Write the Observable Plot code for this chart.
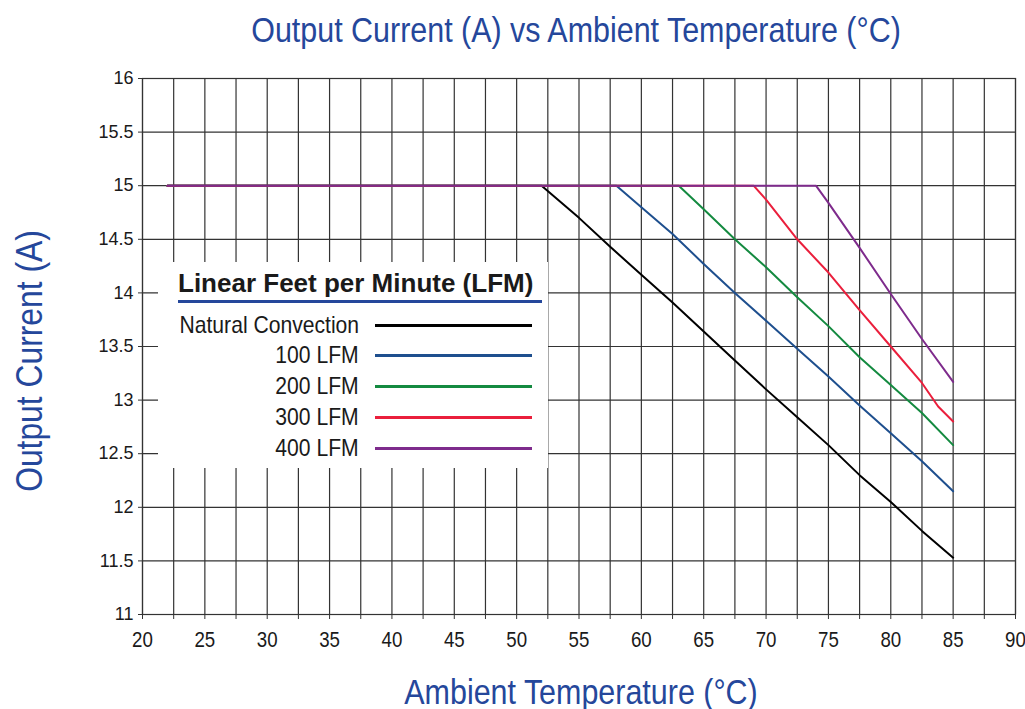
<!DOCTYPE html>
<html>
<head>
<meta charset="utf-8">
<script src="https://cdn.jsdelivr.net/npm/d3@7"></script>
<script src="https://cdn.jsdelivr.net/npm/@observablehq/plot@0.6"></script>
<style>
  html, body { margin: 0; padding: 0; background: #fff; }
  #wrap { position: relative; width: 1025px; height: 709px; font-family: "Liberation Sans", Arial, sans-serif; }
  .ttl { position: absolute; color: #25479b; font-size: 35px; white-space: nowrap; line-height: 40px; }
  #legend { position: absolute; background: #fff; }
  #legend .head { position: absolute; font-family: "Liberation Sans", Arial, sans-serif; font-weight: bold; font-size: 26px; color: #1a1a1a; white-space: nowrap; line-height: 30px; }
  #legend .rule { position: absolute; height: 3px; background: #25479b; }
  #legend .lab { position: absolute; font-size: 24px; color: #1a1a1a; text-align: right; white-space: nowrap; line-height: 28px; transform: scaleX(0.88); transform-origin: right center; }
  #legend .sw { position: absolute; height: 3px; }
</style>
</head>
<body>
<div id="wrap"></div>
<script>
// ---- data ----
const seriesNames = ["Natural Convection", "100 LFM", "200 LFM", "300 LFM", "400 LFM"];
const seriesColors = ["#000000", "#1e4f8e", "#148a40", "#ea1f3c", "#7e2b8c"];

const tempNC = [22, 52, 55, 57.5, 60, 62.5, 65, 67.5, 70, 72.5, 75, 77.5, 80, 82.5, 85];
const currNC = [15, 15, 14.7, 14.43, 14.17, 13.91, 13.64, 13.37, 13.1, 12.84, 12.58, 12.3, 12.05, 11.78, 11.53];

const temp100 = [22, 58, 60, 62.5, 65, 67.5, 70, 72.5, 75, 77.5, 80, 82.5, 85];
const curr100 = [15, 15, 14.8, 14.55, 14.27, 14.0, 13.74, 13.48, 13.22, 12.95, 12.69, 12.43, 12.15];

const temp200 = [22, 63, 65, 67.5, 70, 72.5, 75, 77.5, 80, 82.5, 85];
const curr200 = [15, 15, 14.78, 14.5, 14.24, 13.96, 13.69, 13.4, 13.14, 12.88, 12.58];

const temp300 = [22, 69, 70, 72.5, 75, 77.5, 80, 82.5, 83.8, 85];
const curr300 = [15, 15, 14.87, 14.5, 14.19, 13.84, 13.5, 13.16, 12.94, 12.8];

const temp400 = [22, 74, 75, 77.5, 80, 82.5, 85];
const curr400 = [15, 15, 14.84, 14.42, 13.99, 13.57, 13.17];

const xTickLabels = [20, 25, 30, 35, 40, 45, 50, 55, 60, 65, 70, 75, 80, 85, 90];
const xGridTicks = [20, 22.5, 25, 27.5, 30, 32.5, 35, 37.5, 40, 42.5, 45, 47.5, 50, 52.5, 55, 57.5, 60, 62.5, 65, 67.5, 70, 72.5, 75, 77.5, 80, 82.5, 85, 87.5, 90];
const yTicks = [11, 11.5, 12, 12.5, 13, 13.5, 14, 14.5, 15, 15.5, 16];

const titleText = "Output Current (A) vs Ambient Temperature (°C)";
const xLabelText = "Ambient Temperature (°C)";
const yLabelText = "Output Current (A)";
const legendTitle = "Linear Feet per Minute (LFM)";

// ---- build table ----
const temps = [tempNC, temp100, temp200, temp300, temp400];
const currs = [currNC, curr100, curr200, curr300, curr400];
const rows = [];
seriesNames.forEach((name, i) => {
  temps[i].forEach((t, j) => rows.push({series: name, t, v: currs[i][j]}));
});

const gridColor = "#333333";
const plot = Plot.plot({
  width: 1025,
  height: 709,
  marginLeft: 142,
  marginRight: 10,
  marginTop: 78,
  marginBottom: 95,
  style: {fontFamily: '"Liberation Sans", Arial, sans-serif', color: "#1a1a1a", background: "#fff"},
  x: {domain: [20, 90], label: null},
  y: {domain: [11, 16], label: null},
  color: {domain: seriesNames, range: seriesColors},
  marks: [
    Plot.gridX(xGridTicks, {stroke: gridColor, strokeOpacity: 1, strokeWidth: 1.2}),
    Plot.gridY(yTicks, {stroke: gridColor, strokeOpacity: 1, strokeWidth: 1.2}),
    Plot.frame({stroke: gridColor, strokeWidth: 1.2}),
    Plot.axisX(xGridTicks, {tickSize: 5, tickPadding: 12, fontSize: 22, stroke: gridColor,
      tickFormat: d => xTickLabels.includes(d) ? String(d) : "", label: null}),
    Plot.axisY(yTicks, {tickSize: 4, tickPadding: 5, fontSize: 18, stroke: gridColor,
      tickFormat: d => String(d), label: null}),
    Plot.line(rows, {x: "t", y: "v", z: "series", stroke: "series", strokeWidth: 2, curve: "linear"})
  ]
});

// condense the x tick labels a little (narrow typeface look)
plot.querySelectorAll('g[aria-label="x-axis tick label"] text').forEach(t => {
  const tr = t.getAttribute("transform");
  if (tr) {
    t.setAttribute("transform", tr + " scale(0.85,1)");
  } else {
    const x = t.getAttribute("x") || 0, y = t.getAttribute("y") || 0;
    t.removeAttribute("x"); t.removeAttribute("y");
    t.setAttribute("transform", `translate(${x},${y}) scale(0.85,1)`);
  }
});

const wrap = document.getElementById("wrap");
wrap.appendChild(plot);

function addDiv(cls, text, css) {
  const d = document.createElement("div");
  d.className = cls;
  d.textContent = text;
  Object.assign(d.style, css);
  return d;
}

wrap.appendChild(addDiv("ttl", titleText, {left: "576px", top: "10px", transform: "translateX(-50%) scaleX(0.87)"}));
wrap.appendChild(addDiv("ttl", xLabelText, {left: "581px", top: "672px", transform: "translateX(-50%) scaleX(0.87)"}));
wrap.appendChild(addDiv("ttl", yLabelText, {left: "30px", top: "361px", fontSize: "37px", transform: "translate(-50%, -50%) rotate(-90deg) scaleX(0.86)"}));

// legend (white box over the grid)
const lg = document.createElement("div");
lg.id = "legend";
Object.assign(lg.style, {left: "158px", top: "262px", width: "390px", height: "206px"});
lg.appendChild(addDiv("head", legendTitle, {left: "20px", top: "6px"}));
lg.appendChild(addDiv("rule", "", {left: "20px", top: "38px", width: "364px"}));
const rowY = [63, 93, 124, 155, 186];
seriesNames.forEach((name, i) => {
  lg.appendChild(addDiv("lab", name, {right: "189px", top: (rowY[i] - 14) + "px"}));
  lg.appendChild(addDiv("sw", "", {left: "217px", top: (rowY[i] - 1) + "px", width: "157px", background: seriesColors[i]}));
});
wrap.appendChild(lg);
</script>
</body>
</html>
